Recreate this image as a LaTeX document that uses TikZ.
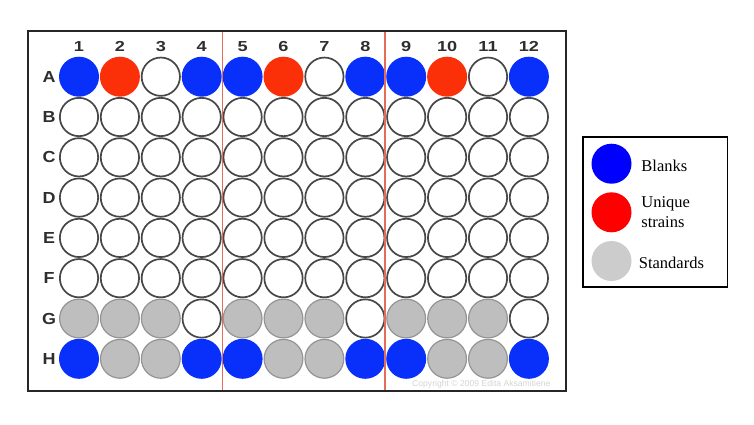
\documentclass[tikz,border=0pt]{standalone}
\usepackage{fontspec}
\setmainfont{Liberation Serif}
\setsansfont{Liberation Sans}
\usetikzlibrary{positioning}

\definecolor{blankblue}{RGB}{8,48,250}
\definecolor{strainred}{RGB}{252,48,8}
\definecolor{stdgray}{RGB}{190,190,190}
\definecolor{keyblue}{RGB}{0,0,255}
\definecolor{keyred}{RGB}{255,0,0}
\definecolor{keygray}{RGB}{204,204,204}
\definecolor{divider}{RGB}{226,110,90}

\begin{document}
\begin{tikzpicture}[
  x=1pt, y=-1pt,
  well/.style={circle, draw=black!72, line width=1.7pt, minimum size=38.3pt, inner sep=0pt, fill=white},
  empty/.style={well},
  blank/.style={well, draw=none, fill=blankblue, minimum size=40pt},
  strain/.style={well, draw=none, fill=strainred, minimum size=40pt},
  standard/.style={well, draw=black!42, line width=1.2pt, fill=stdgray, minimum size=38.8pt},
  lbl/.style={font=\sffamily\bfseries\fontsize{16}{16}\selectfont, text=black!82},
  keydot/.style={circle, minimum size=40pt, inner sep=0pt},
  keytext/.style={font=\fontsize{16.5}{20.5}\selectfont, align=left, inner sep=0pt}
]
  \useasboundingbox (0,0) rectangle (754,424);

  % plate
  \draw[line width=1.5pt, black!85] (28,31) rectangle (566,391);

  % wells, row by row
  \foreach \r/\y/\kinds in {
      A/76.7/{blank,strain,empty,blank,blank,strain,empty,blank,blank,strain,empty,blank},
      B/117.0/{empty,empty,empty,empty,empty,empty,empty,empty,empty,empty,empty,empty},
      C/157.3/{empty,empty,empty,empty,empty,empty,empty,empty,empty,empty,empty,empty},
      D/197.6/{empty,empty,empty,empty,empty,empty,empty,empty,empty,empty,empty,empty},
      E/237.9/{empty,empty,empty,empty,empty,empty,empty,empty,empty,empty,empty,empty},
      F/278.2/{empty,empty,empty,empty,empty,empty,empty,empty,empty,empty,empty,empty},
      G/318.5/{standard,standard,standard,empty,standard,standard,standard,empty,standard,standard,standard,empty},
      H/358.8/{blank,standard,standard,blank,blank,standard,standard,blank,blank,standard,standard,blank}}
  {
    \node[lbl] (row\r) at (49,\y) {\scalebox{1.12}[1]{\r}};
    \foreach \k [count=\c] in \kinds
      \node[\k] (\r\c) at ({79+(\c-1)*40.9},\y) {};
  }

  % column numbers
  \foreach \c in {1,...,12}
    \node[lbl, font=\sffamily\bfseries\fontsize{14.5}{14.5}\selectfont] (col\c) at ({79+(\c-1)*40.9},46.5)
      {\scalebox{1.25}[1]{\c}};

  % dividers between blocks of four columns
  \draw[divider, line width=1.3pt] (222.7,31.8) -- (222.7,390.2);
  \draw[divider, line width=1.3pt] (385,31.8) -- (385,390.2);

  \node[font=\sffamily\fontsize{8.6}{9}\selectfont, text=black!17, anchor=base east] (copy) at (554,386.5)
      {Copyright \textcopyright{} 2009 Edita Aksamitiene};

  % key
  \draw[line width=1.3pt] (583,137) rectangle (727.5,287);
  \node[keydot, fill=keyblue] (kblank) at (611.5,163.7) {};
  \node[keydot, fill=keyred] (kstrain) at (611.5,212.3) {};
  \node[keydot, fill=keygray] (kstd) at (611.5,261) {};
  \node[keytext, right=9.5pt of kblank, yshift=-2pt] (tblank) {Blanks};
  \node[keytext, right=9.5pt of kstrain] (tstrain) {Unique\\strains};
  \node[keytext, right=7pt of kstd, yshift=-2pt] (tstd) {Standards};
\end{tikzpicture}
\end{document}
